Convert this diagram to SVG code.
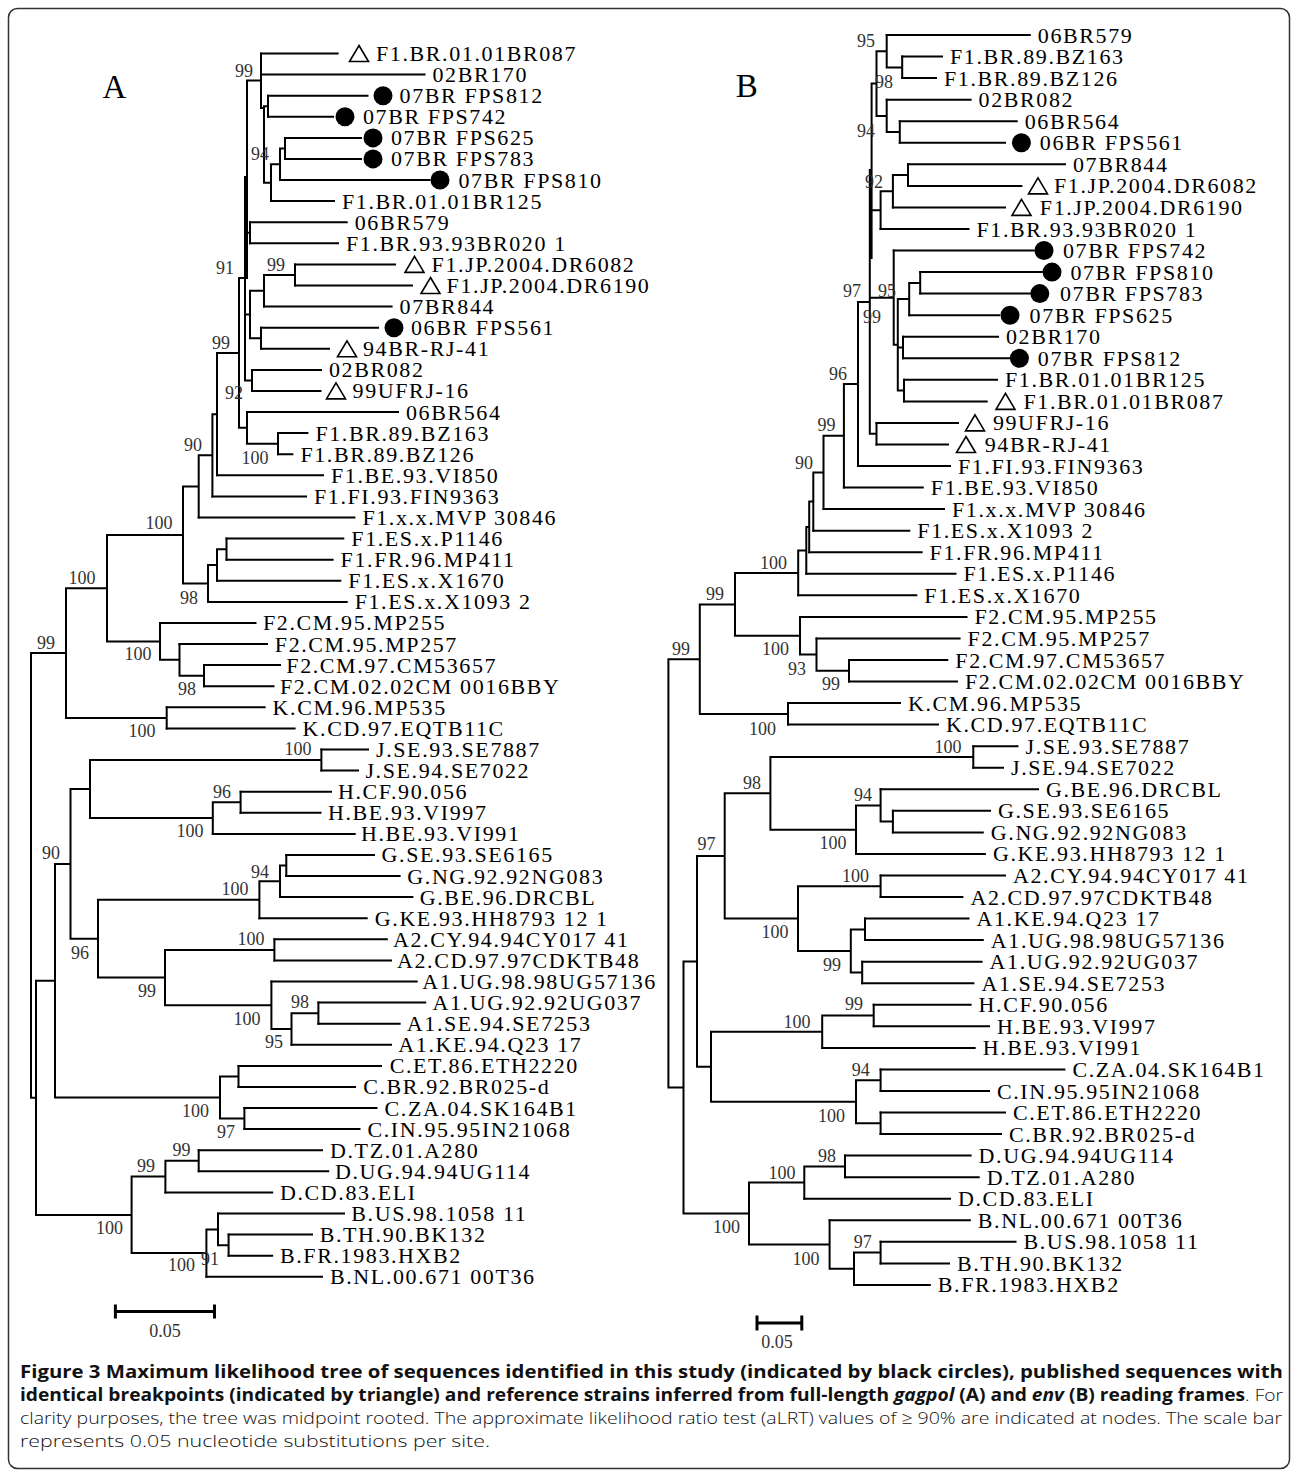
<svg xmlns="http://www.w3.org/2000/svg" xmlns:xlink="http://www.w3.org/1999/xlink" width="1295" height="1473" viewBox="0 0 1295 1473">
<style>
.br{stroke:#000;stroke-width:2;fill:none;stroke-linecap:square}
.sb{stroke:#000;stroke-width:3;fill:none}
.lf{font-family:"Liberation Serif","Times New Roman",serif;font-size:22px;letter-spacing:1.6px;fill:#000}
.bs{font-family:"Liberation Serif","Times New Roman",serif;font-size:18px;fill:#333;text-anchor:middle}
.big{font-family:"Liberation Serif","Times New Roman",serif;font-size:33px;fill:#000}
.dot{fill:#000}
.tri{fill:none;stroke:#000;stroke-width:1.6;stroke-linejoin:miter}
.cap{font-family:"Open Sans","Noto Sans","Liberation Sans",sans-serif;font-size:17px;fill:#111}
.b{font-weight:700}
.bi{font-weight:700;font-style:italic}
.r{font-weight:300}
</style>
<defs>
<path id="tri" class="tri" d="M0,-8 L9.5,8 L-9.5,8 Z"/>
</defs>
<rect x="8.5" y="8.5" width="1281" height="1460" rx="9" fill="#fff" stroke="#333" stroke-width="1.5"/>

<g id="panel-labels">
<text class="big" x="102.6" y="98">A</text>
<text class="big" x="735.7" y="97">B</text>
</g>

<g id="connectors-A">
<path class="br" d="M261 53.5H337.6M261 74.6H424.5M268 95.7H367.5M268 116.8H333M285 137.9H361M285 158.9H361M280 180H429.5M271 201.1H334M250 222.2H346.7M250 243.3H338M295 264.4H395M295 285.5H412M264 306.6H391.6M261 327.7H378M261 348.8H329M252 369.9H321M252 390.9H320.5M247 412H398M278 433.1H307.4M278 454.2H292.4M217 475.3H323M212.4 496.4H306M198.7 517.5H354.4M226.5 538.6H343.3M226.5 559.7H332.6M217 580.8H340.3M208 601.9H346.7M160 622.9H255.5M179.5 644H267M204 665.1H280M204 686.2H273.5M166.7 707.3H264.6M166.7 728.4H294.6M321.4 749.5H368M321.4 770.6H358M240.6 791.7H331M240.6 812.8H320.5M212.8 833.9H354.7M286.3 854.9H374M286.3 876H399.6M280 897.1H412.4M259.4 918.2H366.7M274.4 939.3H386.8M274.4 960.4H391M271.4 981.5H416.7M318.4 1002.6H425.2M318.4 1023.7H399.6M291.5 1044.8H391M238.5 1065.9H381M238.5 1086.9H355M244.4 1108H376.5M244.4 1129.1H359.5M198.7 1150.2H322M198.7 1171.3H328.2M165.4 1192.4H272.2M218 1213.5H344M228.6 1234.6H312M228.6 1255.7H272.2M206.4 1276.8H322"/>
<path class="br" d="M285 137.9V158.9M280 148.4H285M280 148.4V180M271 164.2H280M271 164.2V201.1M264 182.7H271M268 95.7V116.8M264 106.3H268M264 106.3V182.7M261 108H264M261 53.5V108M247 80.5H261M247 80.5V278M245 177V380.4M250 222.2V243.3M245 232.8H250M295 264.4V285.5M264 275H295M264 275V306.6M250 290.8H264M261 327.7V348.8M250 338.3H261M250 290.8V338.3M245 314.5H250M252 369.9V390.9M245 380.4H252M239 278V427.8M239 278H247M239 427.8H247M247 412V443.7M278 433.1V454.2M247 443.7H278M217 353V475.3M217 353H239M212.4 414.2V496.4M212.4 414.2H217M198.7 455.3V517.5M198.7 455.3H212.4M226.5 538.6V559.7M217 549.2H226.5M217 549.2V580.8M208 565H217M208 565V601.9M183 486.4V583.4M183 486.4H198.7M183 583.4H208M204 665.1V686.2M179.5 675.7H204M179.5 644V675.7M160 659.8H179.5M160 622.9V659.8M107 534.9V641.4M107 534.9H183M107 641.4H160M166.7 707.3V728.4M66 588.2V717.9M66 588.2H107M66 717.9H166.7M321.4 749.5V770.6M240.6 791.7V812.8M212.8 802.3H240.6M212.8 802.3V833.9M90 760.1V818.1M90 760.1H321.4M90 818.1H212.8M286.3 854.9V876M280 865.5H286.3M280 865.5V897.1M259.4 881.3H280M259.4 881.3V918.2M274.4 939.3V960.4M318.4 1002.6V1023.7M291.5 1013.2H318.4M291.5 1013.2V1044.8M271.4 1029H291.5M271.4 981.5V1029M165 949.9V1005.3M165 949.9H274.4M165 1005.3H271.4M98 899.8V977.6M98 899.8H259.4M98 977.6H165M70.5 789.1V938.7M70.5 789.1H90M70.5 938.7H98M238.5 1065.9V1086.9M244.4 1108V1129.1M220 1076.4V1118.6M220 1076.4H238.5M220 1118.6H244.4M55 863.9V1097.5M55 863.9H70.5M55 1097.5H220M198.7 1150.2V1171.3M165.4 1160.8H198.7M165.4 1160.8V1192.4M228.6 1234.6V1255.7M218 1245.2H228.6M218 1213.5V1245.2M206.4 1229.4H218M206.4 1229.4V1276.8M131.6 1176.6V1253.1M131.6 1176.6H165.4M131.6 1253.1H206.4M36 980.7V1214.9M36 980.7H55M36 1214.9H131.6M31 653V1097.8M31 653H66M31 1097.8H36"/>
</g>

<g id="connectors-B">
<path class="br" d="M886.7 35H1029.8M902.2 56.6H942M902.2 78.1H936M886.7 99.7H970.6M899.8 121.2H1016.7M899.8 142.8H1005M908 164.3H1065M908 185.9H1021.4M892.9 207.4H1005M880.6 229H968.5M893.7 250.5H1033.7M920.2 272.1H1041.8M920.2 293.6H1029.6M909.2 315.2H999M903 336.7H998M903 358.3H1009M904 379.8H997M904 401.4H986.7M876.5 422.9H958M876.5 444.5H948M858 466H950M843.9 487.6H922.8M823.5 509.1H944M813.3 530.7H909.3M809.2 552.2H921.6M806.3 573.8H955.5M798.2 595.3H916.3M800 616.9H966.5M816.5 638.4H959.6M849 660H947.3M849 681.5H957M788 703.1H900M788 724.6H938M973.3 746.2H1017.5M973.3 767.7H1003M880.6 789.3H1038M892.9 810.8H990M892.9 832.4H982.8M856 853.9H984.9M880.6 875.5H1005M880.6 897H962.4M865 918.6H968.5M865 940.1H982.8M862.2 961.7H981.6M862.2 983.2H973.4M873.7 1004.8H970.6M873.7 1026.3H989M822.2 1047.9H974.7M880.6 1069.4H1064.4M880.6 1091H989M880.6 1112.5H1005M880.6 1134.1H1001M845 1155.6H970.6M845 1177.2H978.7M804.3 1198.7H950M829.6 1220.3H969.8M880.6 1241.8H1015.5M880.6 1263.4H949M854 1284.9H929.8"/>
<path class="br" d="M902.2 56.6V78.1M886.7 67.4H902.2M886.7 35V67.4M899.8 121.2V142.8M886.7 132H899.8M886.7 99.7V132M876.5 51.2V115.9M876.5 51.2H886.7M876.5 115.9H886.7M908 164.3V185.9M892.9 175.1H908M892.9 175.1V207.4M880.6 191.3H892.9M880.6 191.3V229M871.6 83.5V258M871.6 83.5H876.5M871.6 210.2H880.6M869.8 170V433.7M869.8 170.7H871.6M893.7 250.5V344.8M869.8 297.8H893.7M920.2 272.1V293.6M909.2 282.9H920.2M909.2 282.9V315.2M903 336.7V358.3M904 379.8V401.4M897.8 299V390.6M897.8 299H909.2M897.8 347.5H903M897.8 390.6H904M893.7 344.8H897.8M876.5 422.9V444.5M869.8 433.7H876.5M858 301.9H869.8M858 301.9V466M843.9 384V487.6M843.9 384H858M823.5 435.8V509.1M823.5 435.8H843.9M813.3 472.5V530.7M813.3 472.5H823.5M809.2 501.6V552.2M809.2 501.6H813.3M806.3 526.9V573.8M806.3 526.9H809.2M798.2 550.4V595.3M798.2 550.4H806.3M849 660V681.5M816.5 670.8H849M816.5 638.4V670.8M800 654.6H816.5M800 616.9V654.6M735 572.9V635.8M735 572.9H798.2M735 635.8H800M788 703.1V724.6M699.8 604.4V713.9M699.8 604.4H735M699.8 713.9H788M973.3 746.2V767.7M892.9 810.8V832.4M880.6 821.6H892.9M880.6 789.3V821.6M856 805.5H880.6M856 805.5V853.9M770.4 757V829.7M770.4 757H973.3M770.4 829.7H856M880.6 875.5V897M865 918.6V940.1M862.2 961.7V983.2M850.8 929.4V972.5M850.8 929.4H865M850.8 972.5H862.2M798 886.3V950.9M798 886.3H880.6M798 950.9H850.8M724.7 793.3V918.6M724.7 793.3H770.4M724.7 918.6H798M873.7 1004.8V1026.3M822.2 1015.6H873.7M822.2 1015.6V1047.9M880.6 1069.4V1091M880.6 1112.5V1134.1M856 1080.2V1123.3M856 1080.2H880.6M856 1123.3H880.6M711 1031.7V1101.8M711 1031.7H822.2M711 1101.8H856M697 856V1066.7M697 856H724.7M697 1066.7H711M845 1155.6V1177.2M804.3 1166.4H845M804.3 1166.4V1198.7M880.6 1241.8V1263.4M854 1252.6H880.6M854 1252.6V1284.9M829.6 1268.8H854M829.6 1220.3V1268.8M749 1182.6V1244.6M749 1182.6H804.3M749 1244.6H829.6M683.5 961.4V1213.6M683.5 961.4H697M683.5 1213.6H749M668.4 659.2V1087.5M668.4 659.2H699.8M668.4 1087.5H683.5"/>
</g>

<g id="tree-A-leaves">
<g id="A01"><use xlink:href="#tri" x="359" y="53.5"/><text class="lf" x="376" y="61">F1.BR.01.01BR087</text></g>
<g id="A02"><text class="lf" x="432.5" y="82.1">02BR170</text></g>
<g id="A03"><circle class="dot" cx="383" cy="95.7" r="9.5"/><text class="lf" x="399.6" y="103.2">07BR FPS812</text></g>
<g id="A04"><circle class="dot" cx="345" cy="116.8" r="9.5"/><text class="lf" x="363" y="124.3">07BR FPS742</text></g>
<g id="A05"><circle class="dot" cx="373" cy="137.9" r="9.5"/><text class="lf" x="391" y="145.4">07BR FPS625</text></g>
<g id="A06"><circle class="dot" cx="373" cy="158.9" r="9.5"/><text class="lf" x="391" y="166.4">07BR FPS783</text></g>
<g id="A07"><circle class="dot" cx="440" cy="180" r="9.5"/><text class="lf" x="458.5" y="187.5">07BR FPS810</text></g>
<g id="A08"><text class="lf" x="342" y="208.6">F1.BR.01.01BR125</text></g>
<g id="A09"><text class="lf" x="354.7" y="229.7">06BR579</text></g>
<g id="A10"><text class="lf" x="346" y="250.8">F1.BR.93.93BR020 1</text></g>
<g id="A11"><use xlink:href="#tri" x="414.5" y="264.4"/><text class="lf" x="431.6" y="271.9">F1.JP.2004.DR6082</text></g>
<g id="A12"><use xlink:href="#tri" x="430.5" y="285.5"/><text class="lf" x="446.6" y="293">F1.JP.2004.DR6190</text></g>
<g id="A13"><text class="lf" x="399.6" y="314.1">07BR844</text></g>
<g id="A14"><circle class="dot" cx="394" cy="327.7" r="9.5"/><text class="lf" x="411" y="335.2">06BR FPS561</text></g>
<g id="A15"><use xlink:href="#tri" x="347" y="348.8"/><text class="lf" x="363" y="356.3">94BR-RJ-41</text></g>
<g id="A16"><text class="lf" x="329" y="377.4">02BR082</text></g>
<g id="A17"><use xlink:href="#tri" x="336" y="390.9"/><text class="lf" x="352.6" y="398.4">99UFRJ-16</text></g>
<g id="A18"><text class="lf" x="406" y="419.5">06BR564</text></g>
<g id="A19"><text class="lf" x="315.4" y="440.6">F1.BR.89.BZ163</text></g>
<g id="A20"><text class="lf" x="300.4" y="461.7">F1.BR.89.BZ126</text></g>
<g id="A21"><text class="lf" x="331" y="482.8">F1.BE.93.VI850</text></g>
<g id="A22"><text class="lf" x="314" y="503.9">F1.FI.93.FIN9363</text></g>
<g id="A23"><text class="lf" x="362.4" y="525">F1.x.x.MVP 30846</text></g>
<g id="A24"><text class="lf" x="351.3" y="546.1">F1.ES.x.P1146</text></g>
<g id="A25"><text class="lf" x="340.6" y="567.2">F1.FR.96.MP411</text></g>
<g id="A26"><text class="lf" x="348.3" y="588.3">F1.ES.x.X1670</text></g>
<g id="A27"><text class="lf" x="354.7" y="609.4">F1.ES.x.X1093 2</text></g>
<g id="A28"><text class="lf" x="263" y="630.4">F2.CM.95.MP255</text></g>
<g id="A29"><text class="lf" x="274.8" y="651.5">F2.CM.95.MP257</text></g>
<g id="A30"><text class="lf" x="286.3" y="672.6">F2.CM.97.CM53657</text></g>
<g id="A31"><text class="lf" x="280" y="693.7">F2.CM.02.02CM 0016BBY</text></g>
<g id="A32"><text class="lf" x="272.6" y="714.8">K.CM.96.MP535</text></g>
<g id="A33"><text class="lf" x="302.6" y="735.9">K.CD.97.EQTB11C</text></g>
<g id="A34"><text class="lf" x="376" y="757">J.SE.93.SE7887</text></g>
<g id="A35"><text class="lf" x="365.4" y="778.1">J.SE.94.SE7022</text></g>
<g id="A36"><text class="lf" x="338" y="799.2">H.CF.90.056</text></g>
<g id="A37"><text class="lf" x="328" y="820.3">H.BE.93.VI997</text></g>
<g id="A38"><text class="lf" x="361" y="841.4">H.BE.93.VI991</text></g>
<g id="A39"><text class="lf" x="381.6" y="862.4">G.SE.93.SE6165</text></g>
<g id="A40"><text class="lf" x="407.3" y="883.5">G.NG.92.92NG083</text></g>
<g id="A41"><text class="lf" x="419.7" y="904.6">G.BE.96.DRCBL</text></g>
<g id="A42"><text class="lf" x="374.8" y="925.7">G.KE.93.HH8793 12 1</text></g>
<g id="A43"><text class="lf" x="393" y="946.8">A2.CY.94.94CY017 41</text></g>
<g id="A44"><text class="lf" x="397" y="967.9">A2.CD.97.97CDKTB48</text></g>
<g id="A45"><text class="lf" x="422.2" y="989">A1.UG.98.98UG57136</text></g>
<g id="A46"><text class="lf" x="432.5" y="1010.1">A1.UG.92.92UG037</text></g>
<g id="A47"><text class="lf" x="406.8" y="1031.2">A1.SE.94.SE7253</text></g>
<g id="A48"><text class="lf" x="398.3" y="1052.3">A1.KE.94.Q23 17</text></g>
<g id="A49"><text class="lf" x="389.7" y="1073.4">C.ET.86.ETH2220</text></g>
<g id="A50"><text class="lf" x="363.2" y="1094.4">C.BR.92.BR025-d</text></g>
<g id="A51"><text class="lf" x="384.6" y="1115.5">C.ZA.04.SK164B1</text></g>
<g id="A52"><text class="lf" x="367.5" y="1136.6">C.IN.95.95IN21068</text></g>
<g id="A53"><text class="lf" x="330" y="1157.7">D.TZ.01.A280</text></g>
<g id="A54"><text class="lf" x="335" y="1178.8">D.UG.94.94UG114</text></g>
<g id="A55"><text class="lf" x="280" y="1199.9">D.CD.83.ELI</text></g>
<g id="A56"><text class="lf" x="351.3" y="1221">B.US.98.1058 11</text></g>
<g id="A57"><text class="lf" x="319.7" y="1242.1">B.TH.90.BK132</text></g>
<g id="A58"><text class="lf" x="280" y="1263.2">B.FR.1983.HXB2</text></g>
<g id="A59"><text class="lf" x="330" y="1284.3">B.NL.00.671 00T36</text></g>
</g>

<g id="tree-A-support">
<text class="bs" x="244" y="77">99</text>
<text class="bs" x="260" y="160">94</text>
<text class="bs" x="225" y="274">91</text>
<text class="bs" x="276" y="271">99</text>
<text class="bs" x="221" y="349">99</text>
<text class="bs" x="234" y="399">92</text>
<text class="bs" x="193" y="451">90</text>
<text class="bs" x="255" y="464">100</text>
<text class="bs" x="159" y="529">100</text>
<text class="bs" x="82" y="584">100</text>
<text class="bs" x="189" y="604">98</text>
<text class="bs" x="46" y="649">99</text>
<text class="bs" x="138" y="660">100</text>
<text class="bs" x="187" y="695">98</text>
<text class="bs" x="142" y="737">100</text>
<text class="bs" x="298" y="755">100</text>
<text class="bs" x="222" y="798">96</text>
<text class="bs" x="190" y="837">100</text>
<text class="bs" x="51" y="859">90</text>
<text class="bs" x="260" y="878">94</text>
<text class="bs" x="235" y="895">100</text>
<text class="bs" x="251" y="945">100</text>
<text class="bs" x="80" y="959">96</text>
<text class="bs" x="147" y="997">99</text>
<text class="bs" x="300" y="1008">98</text>
<text class="bs" x="247" y="1025">100</text>
<text class="bs" x="274" y="1048">95</text>
<text class="bs" x="195.5" y="1117">100</text>
<text class="bs" x="226" y="1138">97</text>
<text class="bs" x="181.6" y="1156">99</text>
<text class="bs" x="146" y="1172">99</text>
<text class="bs" x="109.5" y="1234">100</text>
<text class="bs" x="181.6" y="1271">100</text>
<text class="bs" x="210" y="1265">91</text>
</g>

<g id="scale-A">
<path class="sb" d="M115.4 1311.5H214.5M115.4 1304.5V1318.5M214.5 1304.5V1318.5"/>
<text class="bs" x="165" y="1337">0.05</text>
</g>

<g id="tree-B-leaves">
<g id="B01"><text class="lf" x="1037.8" y="42.5">06BR579</text></g>
<g id="B02"><text class="lf" x="950" y="64.1">F1.BR.89.BZ163</text></g>
<g id="B03"><text class="lf" x="944" y="85.6">F1.BR.89.BZ126</text></g>
<g id="B04"><text class="lf" x="978.6" y="107.2">02BR082</text></g>
<g id="B05"><text class="lf" x="1024.7" y="128.7">06BR564</text></g>
<g id="B06"><circle class="dot" cx="1021.4" cy="142.8" r="9.5"/><text class="lf" x="1039.8" y="150.3">06BR FPS561</text></g>
<g id="B07"><text class="lf" x="1073" y="171.8">07BR844</text></g>
<g id="B08"><use xlink:href="#tri" x="1038" y="185.9"/><text class="lf" x="1054" y="193.4">F1.JP.2004.DR6082</text></g>
<g id="B09"><use xlink:href="#tri" x="1021.5" y="207.4"/><text class="lf" x="1039.8" y="214.9">F1.JP.2004.DR6190</text></g>
<g id="B10"><text class="lf" x="976.5" y="236.5">F1.BR.93.93BR020 1</text></g>
<g id="B11"><circle class="dot" cx="1044" cy="250.5" r="9.5"/><text class="lf" x="1063" y="258">07BR FPS742</text></g>
<g id="B12"><circle class="dot" cx="1052" cy="272.1" r="9.5"/><text class="lf" x="1070.4" y="279.6">07BR FPS810</text></g>
<g id="B13"><circle class="dot" cx="1039.8" cy="293.6" r="9.5"/><text class="lf" x="1060" y="301.1">07BR FPS783</text></g>
<g id="B14"><circle class="dot" cx="1010" cy="315.2" r="9.5"/><text class="lf" x="1029.6" y="322.7">07BR FPS625</text></g>
<g id="B15"><text class="lf" x="1006" y="344.2">02BR170</text></g>
<g id="B16"><circle class="dot" cx="1019.4" cy="358.3" r="9.5"/><text class="lf" x="1037.8" y="365.8">07BR FPS812</text></g>
<g id="B17"><text class="lf" x="1005" y="387.3">F1.BR.01.01BR125</text></g>
<g id="B18"><use xlink:href="#tri" x="1005.5" y="401.4"/><text class="lf" x="1023.5" y="408.9">F1.BR.01.01BR087</text></g>
<g id="B19"><use xlink:href="#tri" x="975" y="422.9"/><text class="lf" x="992.9" y="430.4">99UFRJ-16</text></g>
<g id="B20"><use xlink:href="#tri" x="966" y="444.5"/><text class="lf" x="984.7" y="452">94BR-RJ-41</text></g>
<g id="B21"><text class="lf" x="958" y="473.5">F1.FI.93.FIN9363</text></g>
<g id="B22"><text class="lf" x="930.8" y="495.1">F1.BE.93.VI850</text></g>
<g id="B23"><text class="lf" x="952" y="516.6">F1.x.x.MVP 30846</text></g>
<g id="B24"><text class="lf" x="917.3" y="538.2">F1.ES.x.X1093 2</text></g>
<g id="B25"><text class="lf" x="929.6" y="559.7">F1.FR.96.MP411</text></g>
<g id="B26"><text class="lf" x="963.5" y="581.3">F1.ES.x.P1146</text></g>
<g id="B27"><text class="lf" x="924.3" y="602.8">F1.ES.x.X1670</text></g>
<g id="B28"><text class="lf" x="974.5" y="624.4">F2.CM.95.MP255</text></g>
<g id="B29"><text class="lf" x="967.6" y="645.9">F2.CM.95.MP257</text></g>
<g id="B30"><text class="lf" x="955.3" y="667.5">F2.CM.97.CM53657</text></g>
<g id="B31"><text class="lf" x="965" y="689">F2.CM.02.02CM 0016BBY</text></g>
<g id="B32"><text class="lf" x="908" y="710.6">K.CM.96.MP535</text></g>
<g id="B33"><text class="lf" x="946" y="732.1">K.CD.97.EQTB11C</text></g>
<g id="B34"><text class="lf" x="1025.5" y="753.7">J.SE.93.SE7887</text></g>
<g id="B35"><text class="lf" x="1011" y="775.2">J.SE.94.SE7022</text></g>
<g id="B36"><text class="lf" x="1046" y="796.8">G.BE.96.DRCBL</text></g>
<g id="B37"><text class="lf" x="998" y="818.3">G.SE.93.SE6165</text></g>
<g id="B38"><text class="lf" x="990.8" y="839.9">G.NG.92.92NG083</text></g>
<g id="B39"><text class="lf" x="992.9" y="861.4">G.KE.93.HH8793 12 1</text></g>
<g id="B40"><text class="lf" x="1013" y="883">A2.CY.94.94CY017 41</text></g>
<g id="B41"><text class="lf" x="970.4" y="904.5">A2.CD.97.97CDKTB48</text></g>
<g id="B42"><text class="lf" x="976.5" y="926.1">A1.KE.94.Q23 17</text></g>
<g id="B43"><text class="lf" x="990.8" y="947.6">A1.UG.98.98UG57136</text></g>
<g id="B44"><text class="lf" x="989.6" y="969.2">A1.UG.92.92UG037</text></g>
<g id="B45"><text class="lf" x="981.4" y="990.7">A1.SE.94.SE7253</text></g>
<g id="B46"><text class="lf" x="978.6" y="1012.3">H.CF.90.056</text></g>
<g id="B47"><text class="lf" x="997" y="1033.8">H.BE.93.VI997</text></g>
<g id="B48"><text class="lf" x="982.7" y="1055.4">H.BE.93.VI991</text></g>
<g id="B49"><text class="lf" x="1072.4" y="1076.9">C.ZA.04.SK164B1</text></g>
<g id="B50"><text class="lf" x="997" y="1098.5">C.IN.95.95IN21068</text></g>
<g id="B51"><text class="lf" x="1013" y="1120">C.ET.86.ETH2220</text></g>
<g id="B52"><text class="lf" x="1009" y="1141.6">C.BR.92.BR025-d</text></g>
<g id="B53"><text class="lf" x="978.6" y="1163.1">D.UG.94.94UG114</text></g>
<g id="B54"><text class="lf" x="986.7" y="1184.7">D.TZ.01.A280</text></g>
<g id="B55"><text class="lf" x="958" y="1206.2">D.CD.83.ELI</text></g>
<g id="B56"><text class="lf" x="977.8" y="1227.8">B.NL.00.671 00T36</text></g>
<g id="B57"><text class="lf" x="1023.5" y="1249.3">B.US.98.1058 11</text></g>
<g id="B58"><text class="lf" x="957" y="1270.9">B.TH.90.BK132</text></g>
<g id="B59"><text class="lf" x="937.8" y="1292.4">B.FR.1983.HXB2</text></g>
</g>

<g id="tree-B-support">
<text class="bs" x="866" y="47">95</text>
<text class="bs" x="884" y="88">98</text>
<text class="bs" x="866" y="137">94</text>
<text class="bs" x="874" y="188">92</text>
<text class="bs" x="852" y="297">97</text>
<text class="bs" x="887" y="297">95</text>
<text class="bs" x="872" y="323">99</text>
<text class="bs" x="838" y="380">96</text>
<text class="bs" x="826.5" y="431">99</text>
<text class="bs" x="804" y="469">90</text>
<text class="bs" x="773.5" y="569">100</text>
<text class="bs" x="715" y="600">99</text>
<text class="bs" x="681" y="655">99</text>
<text class="bs" x="775.5" y="655">100</text>
<text class="bs" x="797" y="675">93</text>
<text class="bs" x="831" y="690">99</text>
<text class="bs" x="762.6" y="735">100</text>
<text class="bs" x="948" y="753">100</text>
<text class="bs" x="752" y="789">98</text>
<text class="bs" x="863" y="801">94</text>
<text class="bs" x="706.5" y="849.5">97</text>
<text class="bs" x="833" y="849">100</text>
<text class="bs" x="855.6" y="881.6">100</text>
<text class="bs" x="775" y="938">100</text>
<text class="bs" x="832" y="971">99</text>
<text class="bs" x="854" y="1009.6">99</text>
<text class="bs" x="797" y="1028">100</text>
<text class="bs" x="860.7" y="1076">94</text>
<text class="bs" x="831.6" y="1122">100</text>
<text class="bs" x="827" y="1162">98</text>
<text class="bs" x="782" y="1179">100</text>
<text class="bs" x="726.6" y="1233">100</text>
<text class="bs" x="862.7" y="1248">97</text>
<text class="bs" x="806" y="1265">100</text>
</g>

<g id="scale-B">
<path class="sb" d="M757 1323H801.8M757 1315.5V1330.5M801.8 1315.5V1330.5"/>
<text class="bs" x="777" y="1348">0.05</text>
</g>

<g id="caption">
<text class="cap b" x="20" y="1378" textLength="1263" lengthAdjust="spacingAndGlyphs">Figure 3 Maximum likelihood tree of sequences identified in this study (indicated by black circles), published sequences with</text>
<text class="cap" x="20" y="1401" textLength="1263" lengthAdjust="spacingAndGlyphs"><tspan class="b">identical breakpoints (indicated by triangle) and reference strains inferred from full-length </tspan><tspan class="bi">gagpol</tspan><tspan class="b"> (A) and </tspan><tspan class="bi">env</tspan><tspan class="b"> (B) reading frames</tspan><tspan class="r">. For</tspan></text>
<text class="cap r" x="20" y="1424" textLength="1262" lengthAdjust="spacingAndGlyphs">clarity purposes, the tree was midpoint rooted. The approximate likelihood ratio test (aLRT) values of ≥ 90% are indicated at nodes. The scale bar</text>
<text class="cap r" x="20" y="1447" textLength="470" lengthAdjust="spacingAndGlyphs">represents 0.05 nucleotide substitutions per site.</text>
</g>
</svg>
